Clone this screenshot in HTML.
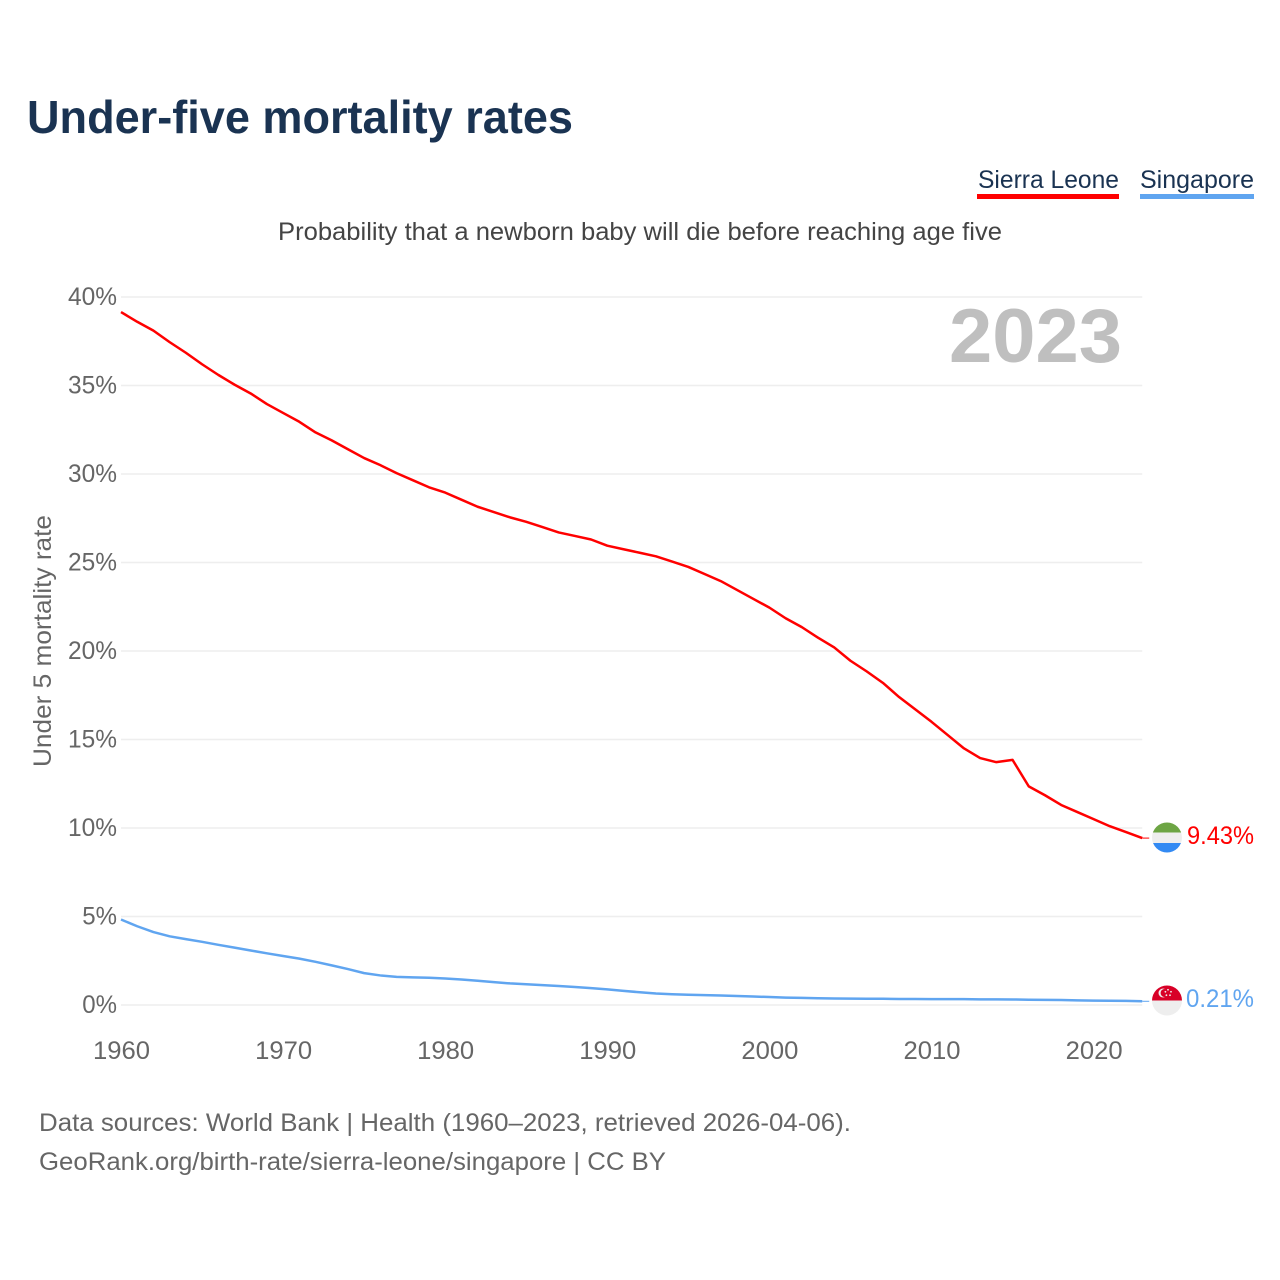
<!DOCTYPE html>
<html lang="en">
<head>
<meta charset="utf-8">
<title>Under-five mortality rates</title>
<style>
html,body{margin:0;padding:0;background:#fff;width:1280px;height:1280px;overflow:hidden}
svg{display:block;font-family:"Liberation Sans",sans-serif}
</style>
</head>
<body>
<svg id="chart" width="1280" height="1280" viewBox="0 0 1280 1280" xmlns="http://www.w3.org/2000/svg">
<defs>
<clipPath id="flag-clip-sl"><circle cx="1167" cy="837.5" r="15"/></clipPath>
<clipPath id="flag-clip-sg"><circle cx="1167" cy="1000.5" r="15"/></clipPath>
</defs>
<text x="27" y="133" font-size="46" font-weight="bold" fill="#1a3352" textLength="546" lengthAdjust="spacingAndGlyphs">Under-five mortality rates</text>
<text x="978" y="188" font-size="25" fill="#1a3352" textLength="141" lengthAdjust="spacingAndGlyphs">Sierra Leone</text>
<rect x="977" y="194" width="142" height="5" fill="#ff0000"/>
<text x="1140" y="188" font-size="25" fill="#1a3352" textLength="114" lengthAdjust="spacingAndGlyphs">Singapore</text>
<rect x="1140" y="194" width="114" height="5" fill="#60a5f0"/>
<text x="278" y="240" font-size="25" fill="#444444" textLength="724" lengthAdjust="spacingAndGlyphs">Probability that a newborn baby will die before reaching age five</text>
<text transform="translate(51,767) rotate(-90)" x="0" y="0" font-size="25" fill="#666666" textLength="252" lengthAdjust="spacingAndGlyphs">Under 5 mortality rate</text>
<text x="949" y="362" font-size="76" font-weight="bold" fill="#bfbfbf" textLength="173" lengthAdjust="spacingAndGlyphs">2023</text>
<g id="grid"></g>
<g id="yticks"></g>
<g id="xticks"></g>
<g id="series"></g>
<g clip-path="url(#flag-clip-sl)">
<rect x="1152" y="822" width="30" height="10.5" fill="#6da544"/>
<rect x="1152" y="832.5" width="30" height="10.5" fill="#eeeeee"/>
<rect x="1152" y="843" width="30" height="10.5" fill="#338af3"/>
</g>
<g clip-path="url(#flag-clip-sg)">
<rect x="1152" y="985" width="30" height="15.5" fill="#d80027"/>
<rect x="1152" y="1000.5" width="30" height="15.5" fill="#eeeeee"/>
<circle cx="1163" cy="993" r="4.5" fill="#eeeeee"/>
<circle cx="1164.6" cy="993" r="4" fill="#d80027"/>
<circle cx="1168" cy="989.8" r="0.9" fill="#eeeeee"/>
<circle cx="1171" cy="991.8" r="0.9" fill="#eeeeee"/>
<circle cx="1170" cy="995.2" r="0.9" fill="#eeeeee"/>
<circle cx="1166.4" cy="995.2" r="0.9" fill="#eeeeee"/>
<circle cx="1165.4" cy="991.8" r="0.9" fill="#eeeeee"/>
</g>
<text x="1187" y="844" font-size="25" fill="#ff0000" textLength="67" lengthAdjust="spacingAndGlyphs">9.43%</text>
<text x="1186" y="1007" font-size="25" fill="#60a5f0" textLength="68" lengthAdjust="spacingAndGlyphs">0.21%</text>
<text x="39" y="1131" font-size="25" fill="#666666" textLength="812" lengthAdjust="spacingAndGlyphs">Data sources: World Bank | Health (1960–2023, retrieved 2026-04-06).</text>
<text x="39" y="1170" font-size="25" fill="#666666" textLength="627" lengthAdjust="spacingAndGlyphs">GeoRank.org/birth-rate/sierra-leone/singapore | CC BY</text>
</svg>
<script>
const startYear = 1960;
const endYear = 2023;
const xTickYears = [1960, 1970, 1980, 1990, 2000, 2010, 2020];
const yTickValues = [0, 5, 10, 15, 20, 25, 30, 35, 40];
const sierraLeoneValues = [
  39.15, 38.6, 38.1, 37.45, 36.85, 36.2, 35.6, 35.05, 34.55, 33.95,
  33.45, 32.95, 32.35, 31.9, 31.4, 30.9, 30.5, 30.05, 29.65, 29.25,
  28.95, 28.55, 28.15, 27.85, 27.55, 27.3, 27.0, 26.7, 26.5, 26.3,
  25.95, 25.75, 25.55, 25.35, 25.05, 24.75, 24.35, 23.95, 23.45, 22.95,
  22.45, 21.85, 21.35, 20.75, 20.2, 19.45, 18.85, 18.2, 17.4, 16.7,
  16.0, 15.25, 14.5, 13.95, 13.72, 13.85, 12.35, 11.85, 11.3, 10.9,
  10.5, 10.1, 9.77, 9.43
];
const singaporeValues = [
  4.83, 4.45, 4.12, 3.88, 3.72, 3.57, 3.4, 3.24, 3.08, 2.92,
  2.77, 2.62, 2.44, 2.24, 2.03, 1.8, 1.67, 1.59, 1.56, 1.54,
  1.5, 1.44, 1.37, 1.29, 1.22, 1.17, 1.12, 1.07, 1.02, 0.95,
  0.88, 0.8, 0.72, 0.65, 0.61, 0.58, 0.56, 0.54, 0.51, 0.48,
  0.45, 0.42, 0.4, 0.38, 0.37, 0.36, 0.35, 0.35, 0.34, 0.34,
  0.33, 0.33, 0.33, 0.32, 0.32, 0.31, 0.3, 0.29, 0.28, 0.26,
  0.25, 0.24, 0.23, 0.21
];

const NS = 'http://www.w3.org/2000/svg';
const plotLeft = 121;
const pxPerYear = 16.21;
const plotBottom = 1005;
const pxPerPercent = 17.7;
const xScale = year => plotLeft + (year - startYear) * pxPerYear;
const yScale = value => plotBottom - value * pxPerPercent;
const plotRight = xScale(endYear);

const gridGroup = document.getElementById('grid');
const yTickGroup = document.getElementById('yticks');
const xTickGroup = document.getElementById('xticks');
const seriesGroup = document.getElementById('series');

yTickValues.forEach(value => {
  const line = document.createElementNS(NS, 'line');
  
  
  line.setAttribute('x1', plotLeft);
  line.setAttribute('x2', plotRight);
  line.setAttribute('y1', yScale(value));
  line.setAttribute('y2', yScale(value));
  line.setAttribute('stroke', '#eeeeee');
  line.setAttribute('stroke-width', '1.5');
  gridGroup.appendChild(line);

  const label = document.createElementNS(NS, 'text');
  
  
  const str = value + '%';
  label.textContent = str;
  label.setAttribute('x', 117);
  label.setAttribute('y', yScale(value) + 8);
  label.setAttribute('text-anchor', 'end');
  label.setAttribute('font-size', '25');
  label.setAttribute('fill', '#666666');
  label.setAttribute('textLength', (str.length - 1) * 14.25 + 20.5);
  label.setAttribute('lengthAdjust', 'spacingAndGlyphs');
  yTickGroup.appendChild(label);
});

xTickYears.forEach(year => {
  const label = document.createElementNS(NS, 'text');
  
  
  label.textContent = year;
  label.setAttribute('x', xScale(year) + 0.5);
  label.setAttribute('y', 1059);
  label.setAttribute('text-anchor', 'middle');
  label.setAttribute('font-size', '25');
  label.setAttribute('fill', '#666666');
  label.setAttribute('textLength', '57');
  label.setAttribute('lengthAdjust', 'spacingAndGlyphs');
  xTickGroup.appendChild(label);
});

function buildPath(values) {
  return values.map((v, i) => (i ? 'L' : 'M') + xScale(startYear + i).toFixed(2) + ' ' + yScale(v).toFixed(2)).join(' ');
}

const redLine = document.createElementNS(NS, 'path');


redLine.setAttribute('d', buildPath(sierraLeoneValues));
redLine.setAttribute('fill', 'none');
redLine.setAttribute('stroke', '#ff0000');
redLine.setAttribute('stroke-width', '2.5');
redLine.setAttribute('stroke-linejoin', 'round');
seriesGroup.appendChild(redLine);

const blueLine = document.createElementNS(NS, 'path');


blueLine.setAttribute('d', buildPath(singaporeValues));
blueLine.setAttribute('fill', 'none');
blueLine.setAttribute('stroke', '#60a5f0');
blueLine.setAttribute('stroke-width', '2.5');
blueLine.setAttribute('stroke-linejoin', 'round');
seriesGroup.appendChild(blueLine);

const redLeader = document.createElementNS(NS, 'line');


redLeader.setAttribute('x1', plotRight);
redLeader.setAttribute('x2', plotRight + 7);
redLeader.setAttribute('y1', yScale(sierraLeoneValues[sierraLeoneValues.length - 1]));
redLeader.setAttribute('y2', yScale(sierraLeoneValues[sierraLeoneValues.length - 1]));
redLeader.setAttribute('stroke', '#ff0000');
redLeader.setAttribute('stroke-width', '1');
seriesGroup.appendChild(redLeader);

const blueLeader = document.createElementNS(NS, 'line');


blueLeader.setAttribute('x1', plotRight);
blueLeader.setAttribute('x2', plotRight + 7);
blueLeader.setAttribute('y1', yScale(singaporeValues[singaporeValues.length - 1]));
blueLeader.setAttribute('y2', yScale(singaporeValues[singaporeValues.length - 1]));
blueLeader.setAttribute('stroke', '#60a5f0');
blueLeader.setAttribute('stroke-width', '1');
seriesGroup.appendChild(blueLeader);
</script>
</body>
</html>
